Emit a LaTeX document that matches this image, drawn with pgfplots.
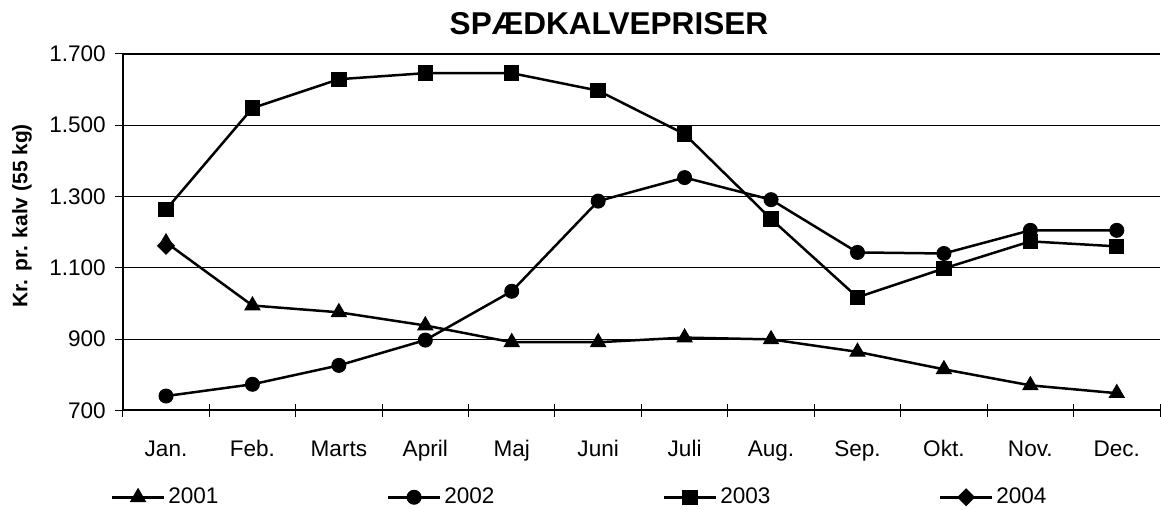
\documentclass[border=0pt]{standalone}
\usepackage{fontspec}
\setmainfont{Liberation Sans}
\usepackage{pgfplots}
\pgfplotsset{compat=1.18}
\newcommand{\fs}{\fontsize{11.3}{13}\selectfont}

\pgfplotsset{
  kalv/.style={black, line width=1.25pt, mark options={solid, fill=black, line width=0.5pt}},
}

\begin{document}
\begin{tikzpicture}
% canvas with the reference proportions (1px = 0.5pt)
\path (0,0) rectangle (580.5pt,254pt);
\begin{axis}[
    at={(61.5pt,48.5pt)}, anchor=south west,
    scale only axis, width=519.5pt, height=178.5pt,
    xmin=-0.5, xmax=11.5, ymin=700, ymax=1700,
    axis x line*=bottom, axis y line*=left,
    axis line style={line width=1pt},
    tick align=center,
    xtick={0,...,11},
    xticklabels={Jan.,Feb.,Marts,April,Maj,Juni,Juli,Aug.,Sep.,Okt.,Nov.,Dec.},
    major x tick style={draw=none},
    minor xtick={-0.5,0.5,...,11.5},
    minor tick length=6.3pt,
    minor x tick style={black, line width=0.5pt},
    ytick={700,900,1100,1300,1500},
    extra y ticks={1700},
    extra y tick style={grid style={black, line width=1pt}},
    major tick length=8pt,
    y tick style={black, line width=0.5pt},
    ymajorgrids, grid style={black, line width=0.5pt},
    yticklabel style={/pgf/number format/1000 sep={.}, /pgf/number format/assume math mode=true, font=\fs, xshift=-1pt},
    xticklabel style={font=\fs, anchor=base, yshift=-19pt},
    ylabel={\textbf{Kr. pr. kalv (55 kg)}},
    ylabel style={font=\fontsize{10.5}{12}\selectfont, at={(axis description cs:-0.0972,0.546)}, anchor=center},
    clip=false,
    legend columns=4,
    legend style={at={(axis description cs:-0.0115,-0.244)}, anchor=west, draw=none, fill=none,
      inner sep=0pt, outer sep=0pt, font=\fs, nodes={inner sep=1.5pt}},
    legend image code/.code={\draw[mark repeat=2, mark phase=2] plot coordinates {(0pt,0pt) (13pt,0pt) (26pt,0pt)};},
]
\addplot[kalv, mark=triangle*, mark size=4.3pt] coordinates {
  (0,1171) (1,994) (2,975) (3,938) (4,891) (5,891) (6,904) (7,899) (8,864) (9,815) (10,770) (11,748)
};
\addlegendentry{\makebox[108pt][l]{2001}}
\addplot[kalv, mark=*, mark size=3.5pt] coordinates {
  (0,740) (1,773) (2,826) (3,897) (4,1034) (5,1287) (6,1353) (7,1291) (8,1143) (9,1140) (10,1205) (11,1205)
};
\addlegendentry{\makebox[108pt][l]{2002}}
\addplot[kalv, mark=square*, mark size=3.6pt] coordinates {
  (0,1263) (1,1548) (2,1629) (3,1646) (4,1646) (5,1597) (6,1475) (7,1237) (8,1017) (9,1098) (10,1174) (11,1160)
};
\addlegendentry{\makebox[108pt][l]{2003}}
\addplot[kalv, mark=square*, mark size=2.6pt, mark options={rotate=45}] coordinates {
  (0,1162)
};
\addlegendentry{2004}
\node[font=\bfseries\fontsize{15.8}{18}\selectfont] at (rel axis cs:0.4687,1.084) {SPÆDKALVEPRISER};
\end{axis}
\end{tikzpicture}
\end{document}
